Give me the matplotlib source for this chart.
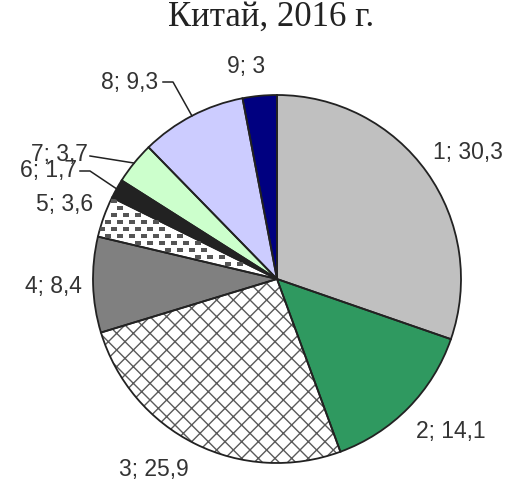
import matplotlib.pyplot as plt
import numpy as np

W, H = 508, 485

categories = ['1', '2', '3', '4', '5', '6', '7', '8', '9']
values = [30.3, 14.1, 25.9, 8.4, 3.6, 1.7, 3.7, 9.3, 3.0]
value_labels = ['30,3', '14,1', '25,9', '8,4', '3,6', '1,7', '3,7', '9,3', '3']
colors = ['#c0c0c0', '#2f9960', '#ffffff', '#808080', '#ffffff',
          '#222222', '#ccffcc', '#ccccff', '#000080']
hatches = [None, None, 'xx', None, None, None, None, None, None]

# label centres in pixels (from top-left)
label_pos = [(468, 153), (451, 432), (154, 470), (53, 287), (65, 205),
             (48, 170), (59, 155), (130, 82), (246, 66)]

cx, cy, r = 277, H - 280, 184

fig = plt.figure(figsize=(W / 100, H / 100), dpi=100)
ax = fig.add_axes([0, 0, 1, 1])

plt.rcParams['hatch.linewidth'] = 1.0

wedges, _ = ax.pie(values, colors=colors, startangle=90, counterclock=False,
                   center=(cx, cy), radius=r, frame=True,
                   wedgeprops=dict(edgecolor='#555555', linewidth=0))
for w, h in zip(wedges, hatches):
    if h:
        w.set_hatch(h)
        w.set_edgecolor('#5a5a5a')
        w.set_linewidth(0)

# outlines
ax.pie(values, startangle=90, counterclock=False, center=(cx, cy),
       radius=r, frame=True,
       wedgeprops=dict(fill=False, edgecolor='#222222', linewidth=1.3))
ax.set_xlim(0, W)
ax.set_ylim(0, H)
ax.set_aspect('equal')
ax.axis('off')

# dashed fill for slice 5
w5 = wedges[4]
gx, gy = np.meshgrid(np.arange(60, 300, 12), np.arange(150, 340, 7))
gx = gx + (np.arange(gx.shape[0])[:, None] % 2) * 6
px, py = gx.ravel(), gy.ravel()
path = w5.get_path().transformed(w5.get_patch_transform())
inside = path.contains_points(np.c_[px, py], radius=-3)
sc = ax.scatter(px[inside], py[inside], marker='_', s=16, linewidths=1.5,
                color='#555555', zorder=3)
sc.set_clip_path(w5)

# labels
for cat, vl, (lx, ly) in zip(categories, value_labels, label_pos):
    ax.text(lx, H - ly, f'{cat}; {vl}', ha='center', va='center',
            fontsize=16.5, family='Liberation Sans', color='#333333')

# leader lines for 6, 7, 8
cum = np.cumsum([0] + values)
total = sum(values)


def rim(i):
    ang = np.deg2rad(90 - 360 * (cum[i] + values[i] / 2) / total)
    return cx + r * np.cos(ang), cy + r * np.sin(ang)


leaders = {7: [(163, 83), (173, 83)], 6: [(90, 157)], 5: [(80, 172), (90, 172)]}
for i, pts in leaders.items():
    xs = [p[0] for p in pts] + [rim(i)[0]]
    ys = [H - p[1] for p in pts] + [rim(i)[1]]
    ax.plot(xs, ys, color='#222222', linewidth=1.1)

ax.text(271, H - 17, 'Китай, 2016 г.', ha='center', va='center',
        fontsize=25, family='Liberation Serif', color='#222222')

fig.savefig('out.png', dpi=100)
